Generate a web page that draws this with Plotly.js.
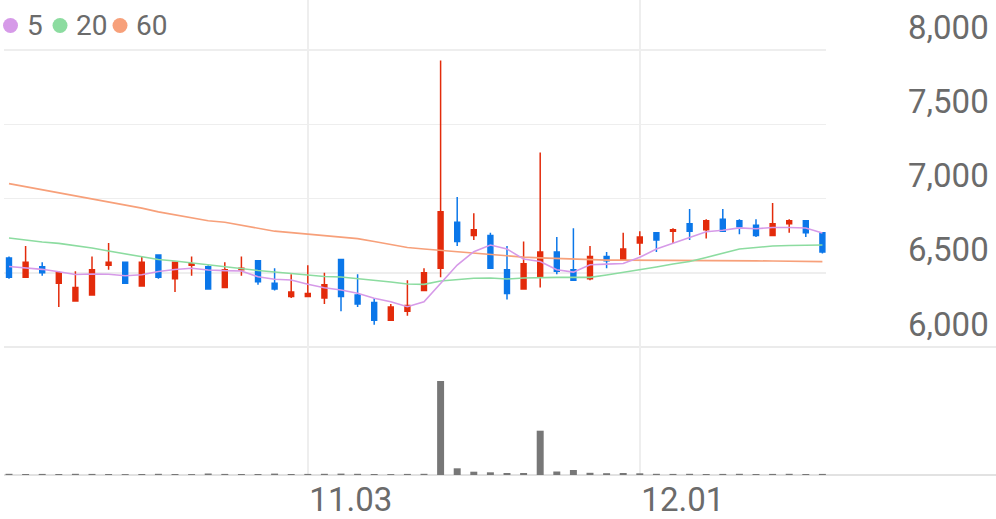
<!DOCTYPE html>
<html>
<head>
<meta charset="utf-8">
<script src="https://cdn.plot.ly/plotly-3.0.1.min.js"></script>
<style>html,body{margin:0;padding:0;background:#fff;}#chart{width:996px;height:519px;}</style>
</head>
<body>
<div id="chart"></div>
<script>
const dates = ['10.01','10.02','10.10','10.13','10.14','10.15','10.16','10.17','10.20','10.21',
  '10.22','10.23','10.24','10.27','10.28','10.29','10.30','10.31','11.03','11.04',
  '11.05','11.06','11.07','11.10','11.11','11.12','11.13','11.14','11.17','11.18',
  '11.19','11.20','11.21','11.24','11.25','11.26','11.27','11.28','12.01','12.02',
  '12.03','12.04','12.05','12.08','12.09','12.10','12.11','12.12','12.15','12.16'];
const open = [6600,6470,6540,6430,6310,6350,6550,6570,6410,6620, 6460,6550,6540,6400,6520,6580,6430,6340,6340,6330,
  6590,6350,6300,6180,6240,6380,6530,6840,6750,6750, 6520,6390,6470,6640,6520,6460,6610,6590,6700,6770,
  6780,6830,6790,6860,6850,6820,6750,6830,6850,6770];
const high = [6610,6680,6570,6510,6510,6610,6700,6570,6610,6620, 6570,6610,6550,6570,6610,6580,6530,6490,6550,6500,
  6590,6490,6330,6290,6450,6530,7930,7010,6900,6770, 6680,6710,7310,6740,6800,6680,6640,6770,6780,6770,
  6800,6930,6860,6930,6860,6860,6970,6860,6850,6770];
const low = [6460,6470,6480,6270,6310,6350,6520,6430,6410,6460, 6370,6480,6390,6400,6480,6420,6380,6330,6340,6290,
  6240,6270,6150,6180,6210,6380,6470,6680,6720,6530, 6320,6390,6400,6490,6450,6450,6530,6590,6620,6640,
  6700,6720,6730,6780,6760,6740,6750,6770,6740,6630];
const close = [6470,6570,6500,6500,6400,6520,6570,6430,6570,6470, 6570,6560,6390,6520,6530,6440,6390,6370,6360,6420,
  6340,6290,6180,6270,6280,6500,6910,6710,6790,6530, 6360,6560,6640,6510,6450,6610,6580,6660,6740,6720,
  6790,6780,6850,6780,6810,6750,6830,6850,6770,6640];
const ma5 = [6542,6535,6523,6507,6488,6492,6490,6480,6487,6508, 6522,6530,6519,6514,6512,6473,6456,6451,6422,6399,
  6384,6362,6328,6305,6271,6305,6429,6552,6642,6687, 6660,6592,6576,6520,6504,6554,6558,6562,6604,6660,
  6698,6736,6776,6786,6802,6796,6805,6805,6801,6768];
const ma20 = [6734,6720,6707,6698,6683,6667,6646,6626,6606,6589, 6579,6566,6552,6539,6525,6515,6505,6495,6481,6475,
  6471,6461,6451,6438,6424,6422,6444,6455,6463,6465, 6458,6465,6469,6469,6469,6469,6485,6502,6519,6539,
  6559,6576,6603,6633,6660,6670,6680,6683,6683,6687];
const ma60 = [7100,7080,7060,7040,7020,7000,6980,6960,6935,6910, 6890,6870,6850,6840,6820,6800,6780,6770,6760,6750,
  6740,6730,6710,6690,6670,6660,6650,6640,6630,6620, 6610,6605,6600,6595,6590,6585,6585,6585,6585,6585,
  6585,6583,6582,6581,6580,6580,6579,6578,6577,6575];
const volume = [12,10,11,10,12,11,10,9,10,12, 10,9,15,11,10,10,14,10,11,12,
  14,12,10,9,11,12,940,67,33,27, 20,20,443,35,50,22,18,20,17,12,
  11,12,10,11,12,10,11,12,10,11];
const xTicks = ['11.03','12.01'];
const maNames = ['5','20','60'];

const C_UP = '#e32b0b', C_DOWN = '#0b77e9';
const C_MA = ['#d69ae8','#8cdca0','#f7a07a'];
const TXT = '#6b6b6b';
const FONT = 'Roboto, "Noto Sans", sans-serif';

const maSeries = [ma5, ma20, ma60];
const traces = [];
[2,1,0].forEach(k => {
  traces.push({type:'scatter', mode:'lines', x:dates, y:maSeries[k], xaxis:'x', yaxis:'y',
    line:{color:C_MA[k], width:1.6}, hoverinfo:'skip', showlegend:false});
});
traces.push({type:'candlestick', x:dates, open:open, high:high, low:low, close:close,
  xaxis:'x', yaxis:'y', whiskerwidth:0,
  increasing:{line:{color:C_UP, width:1.5}, fillcolor:C_UP},
  decreasing:{line:{color:C_DOWN, width:1.5}, fillcolor:C_DOWN},
  showlegend:false, hoverinfo:'skip'});
traces.push({type:'bar', x:dates, y:volume, xaxis:'x', yaxis:'y2', marker:{color:'#777777'},
  width:0.42, showlegend:false, hoverinfo:'skip'});

// plot area: x 4..826, y 0..475
const PL = 4, PW = 822, PH = 475;
const px = v => (v - PL) / PW;
const py = v => (PH - v) / PH;
const volTop = 128 / 475;

const annotations = [];
const shapes = [];
const legendDots = [10.5, 60, 120];
const legendTextX = [25, 74, 134];
maNames.forEach((n, k) => {
  shapes.push({type:'circle', xref:'paper', yref:'paper',
    x0:px(legendDots[k]-7.5), x1:px(legendDots[k]+7.5), y0:py(33), y1:py(18),
    fillcolor:C_MA[k], line:{width:0}});
  annotations.push({xref:'paper', yref:'paper', x:px(legendTextX[k]), y:py(25.5),
    xanchor:'left', yanchor:'middle', showarrow:false, text:n,
    font:{family:FONT, size:28, color:TXT}});
});
shapes.push({type:'line', xref:'paper', yref:'paper', x0:0, x1:px(996), y0:volTop, y1:volTop,
  line:{color:'#ebebeb', width:2}, layer:'below'});
shapes.push({type:'line', xref:'paper', yref:'paper', x0:0, x1:px(996), y0:0, y1:0,
  line:{color:'#e2e2e2', width:2}, layer:'below'});

const layout = {
  width:996, height:519,
  margin:{l:PL, r:996-826, t:0, b:519-475, pad:0},
  paper_bgcolor:'#ffffff', plot_bgcolor:'#ffffff',
  font:{family:FONT, color:TXT},
  showlegend:false,
  boxgap:0.58,
  bargap:0.58,
  xaxis:{type:'category', anchor:'y2', range:[-0.301, 49.217],
    tickmode:'array', tickvals:xTicks, ticktext:xTicks,
    showgrid:true, gridcolor:'#eeeeee', gridwidth:1.5,
    showline:false, zeroline:false, ticks:'',
    ticklabelshift:43, ticklabelstandoff:2,
    tickfont:{family:FONT, size:33, color:TXT},
    rangeslider:{visible:false}, fixedrange:true},
  yaxis:{domain:[volTop, 1], anchor:'x', side:'right', range:[6000, 8336.7],
    tickmode:'array', tickvals:[6000,6500,7000,7500,8000],
    ticktext:['6,000','6,500','7,000','7,500','8,000'],
    showgrid:true, gridcolor:'#eeeeee', gridwidth:1.5,
    zeroline:false, showline:false, ticks:'',
    ticklabelshift:-23, ticklabelstandoff:81,
    tickfont:{family:FONT, size:33, color:TXT}, fixedrange:true},
  yaxis2:{domain:[0, volTop], anchor:'x', range:[0, 1280],
    showgrid:false, zeroline:false, showline:false, showticklabels:false, ticks:'', fixedrange:true},
  annotations:annotations,
  shapes:shapes
};

Plotly.newPlot('chart', traces, layout, {staticPlot:true, displayModeBar:false});
</script>
</body>
</html>
